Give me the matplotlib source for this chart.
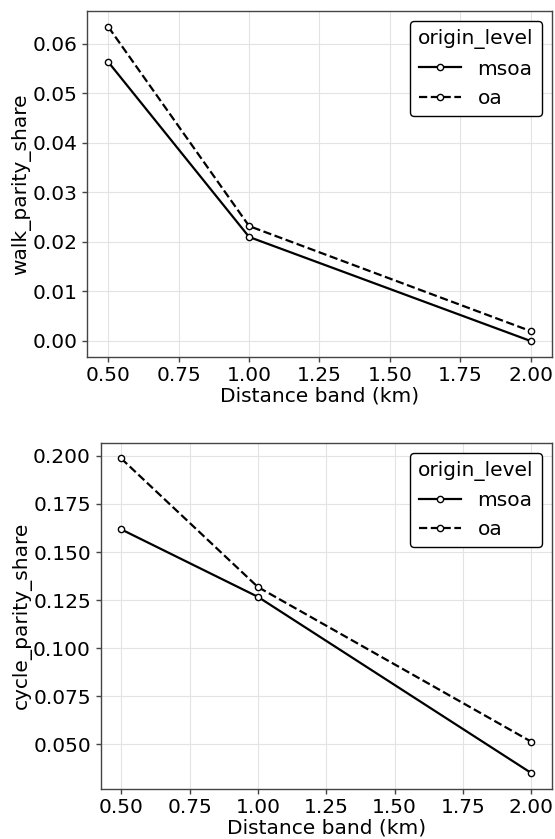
import matplotlib
matplotlib.use("Agg")
import matplotlib.pyplot as plt

distance_km = [0.5, 1.0, 2.0]
walk_msoa = [0.0563, 0.0210, 0.0000]
walk_oa = [0.0634, 0.0232, 0.0020]
cycle_msoa = [0.1618, 0.1267, 0.0350]
cycle_oa = [0.1987, 0.1318, 0.0513]
levels = ["msoa", "oa"]

FS = 14.5
plt.rcParams['font.family'] = ['DejaVu Sans']
plt.rcParams['font.size'] = FS

fig = plt.figure(figsize=(5.55, 8.39), dpi=100)
ax1 = fig.add_axes([0.1573, 0.5749, 0.994 - 0.1573, 0.9865 - 0.5749])
ax2 = fig.add_axes([0.1814, 0.05995, 0.994 - 0.1814, 0.4723 - 0.05995])

def draw(ax, msoa, oa, ylabel):
    for vals, ls, lab in [(msoa, '-', levels[0]), (oa, '--', levels[1])]:
        ax.plot(distance_km, vals, linestyle=ls, color='black', linewidth=1.6,
                marker='o', markersize=4.5, markerfacecolor='white',
                markeredgecolor='black', markeredgewidth=1.0, label=lab)
    ax.grid(True, color='#e3e3e3', linewidth=0.8)
    ax.set_axisbelow(True)
    for s in ax.spines.values():
        s.set_color('#444444')
        s.set_linewidth(1.0)
    ax.tick_params(axis='both', labelsize=FS, color='#444444', length=3.5, width=1.0)
    ax.set_xlabel("Distance band (km)", fontsize=FS, labelpad=1)
    ax.set_ylabel(ylabel, fontsize=FS, labelpad=1)
    ax.set_xticks([0.5, 0.75, 1.0, 1.25, 1.5, 1.75, 2.0])
    ax.xaxis.set_major_formatter(matplotlib.ticker.FormatStrFormatter('%.2f'))
    leg = ax.legend(title="origin_level", loc='upper right', fontsize=FS,
                    title_fontsize=FS, frameon=True, fancybox=True,
                    edgecolor='black', framealpha=1.0, borderaxespad=0.5,
                    handlelength=2.1)
    leg.get_frame().set_linewidth(1.0)

draw(ax1, walk_msoa, walk_oa, "walk_parity_share")
ax1.yaxis.set_major_formatter(matplotlib.ticker.FormatStrFormatter('%.2f'))
draw(ax2, cycle_msoa, cycle_oa, "cycle_parity_share")
ax2.yaxis.set_major_formatter(matplotlib.ticker.FormatStrFormatter('%.3f'))

fig.savefig("out.png", dpi=100)
